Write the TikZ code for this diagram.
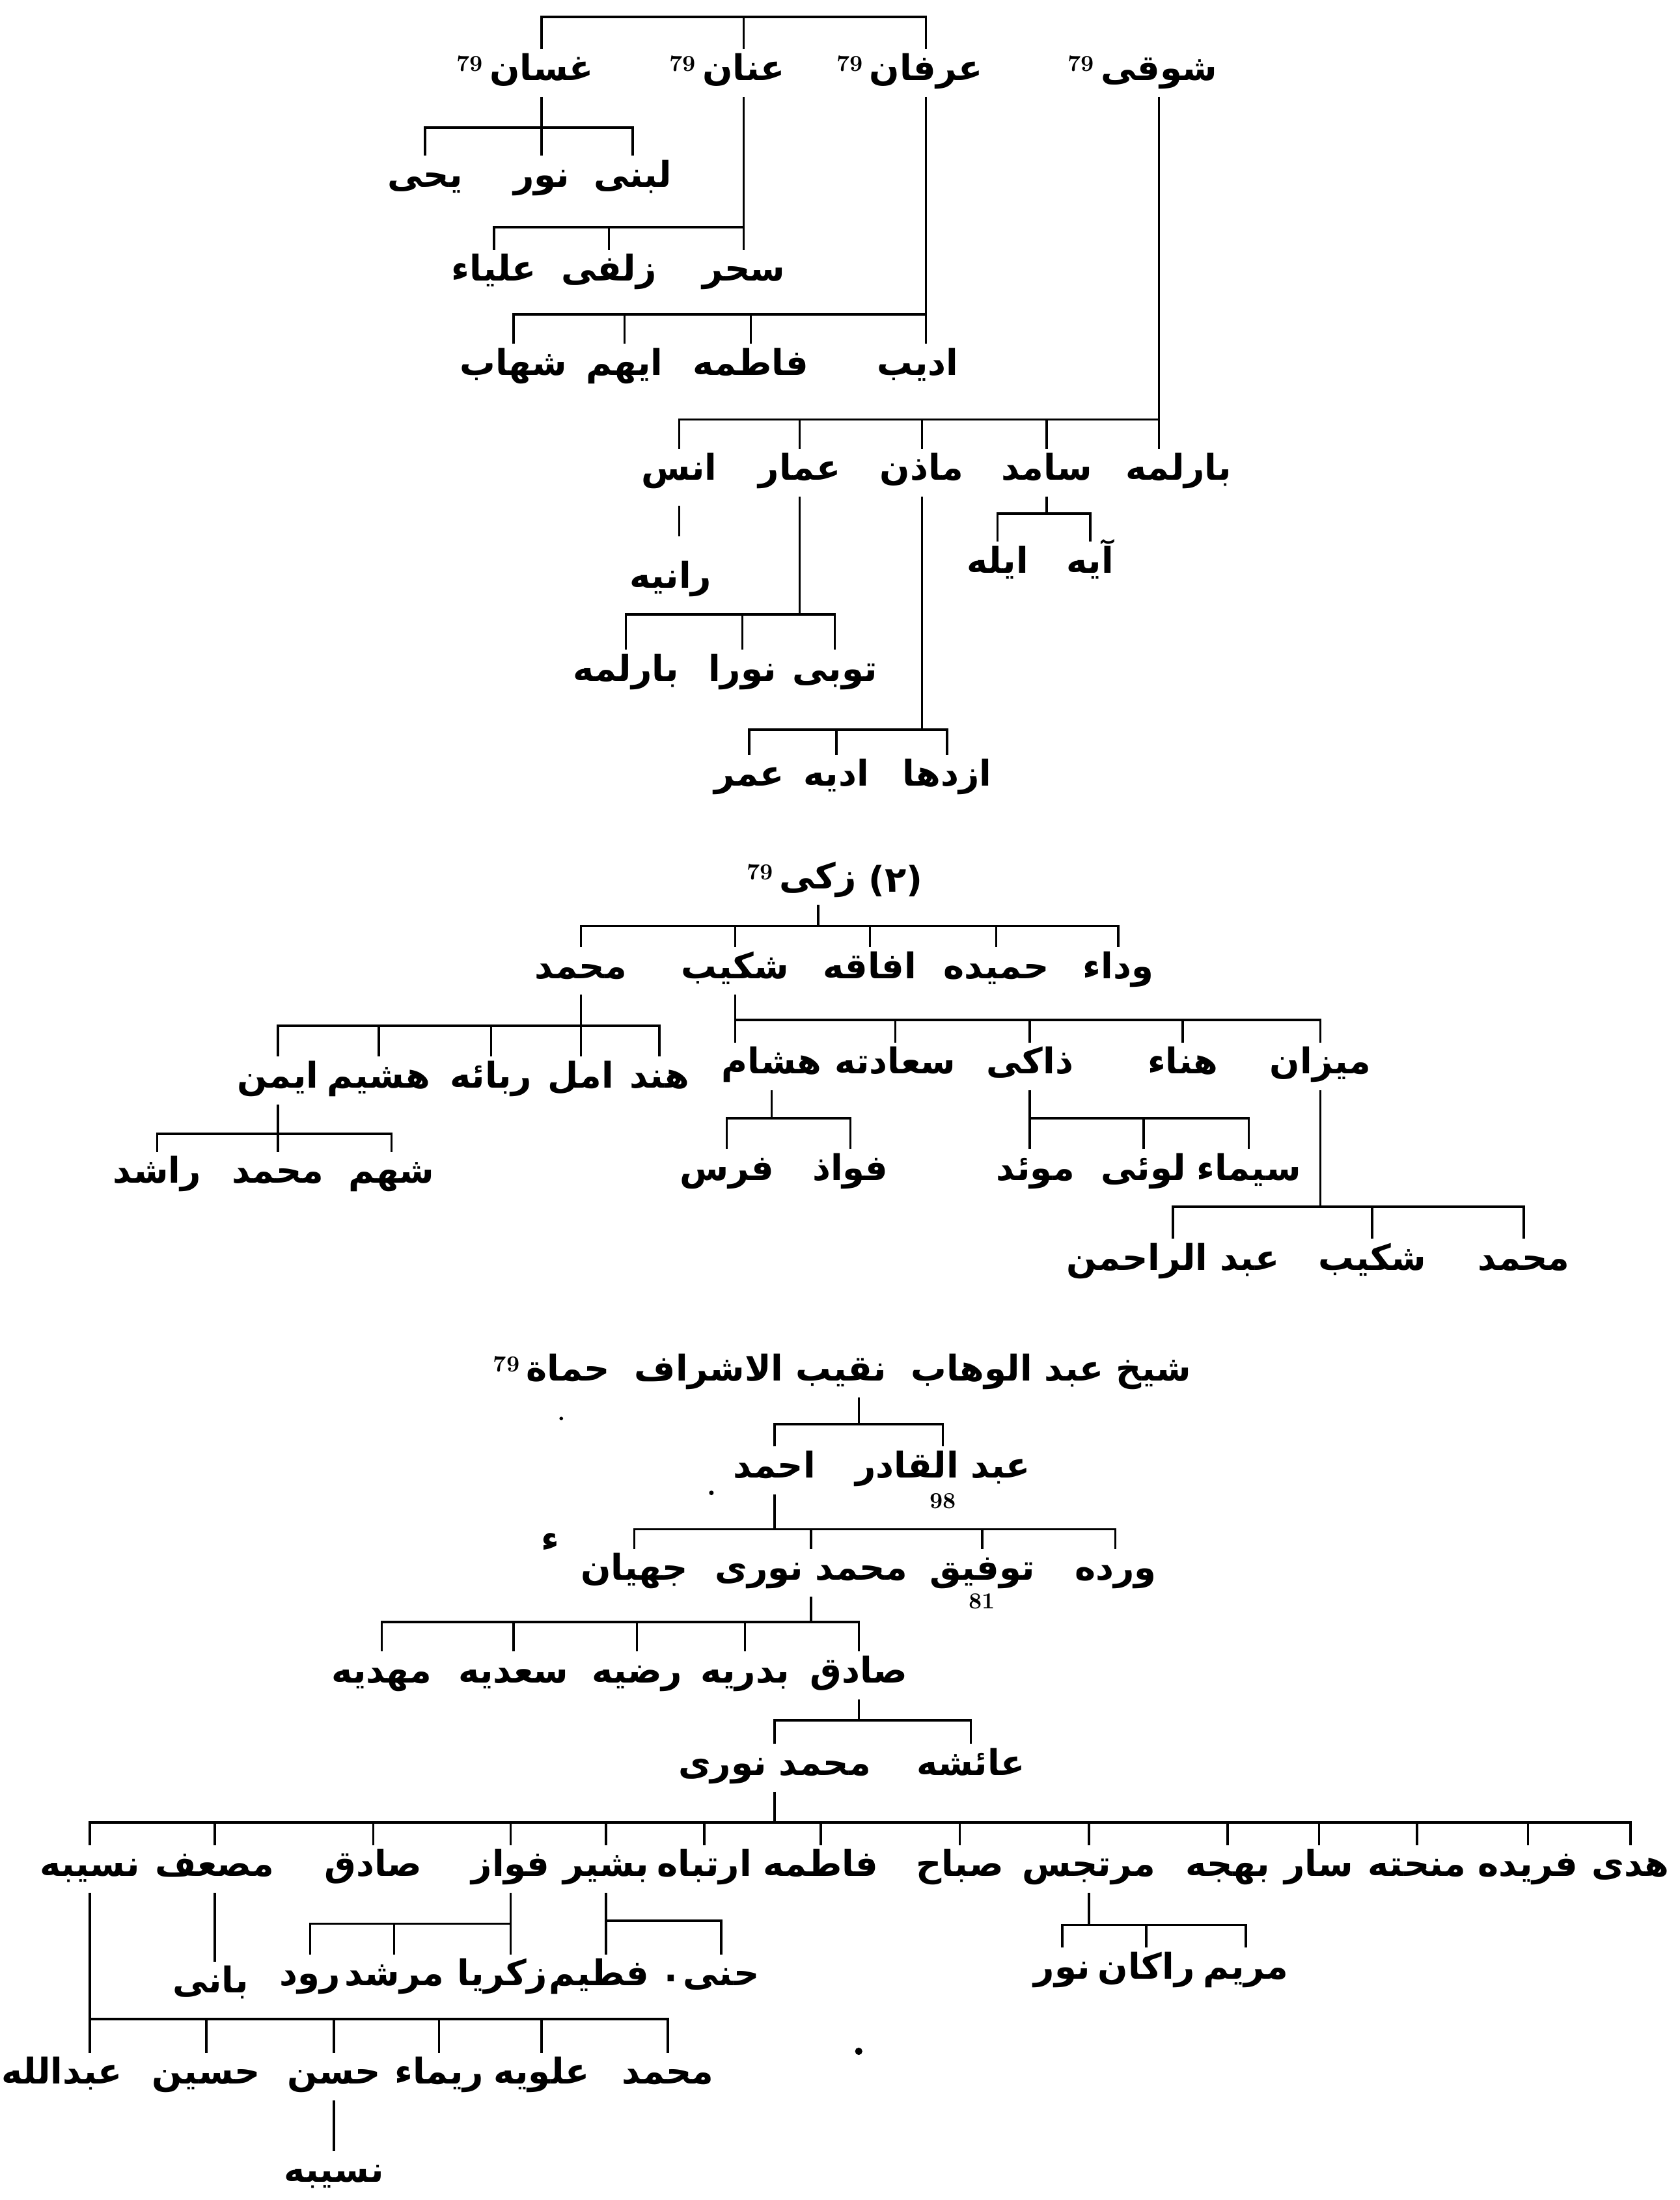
\documentclass[tikz,border=0pt]{standalone}
\usepackage{fontspec}
\newfontfamily\arabicfont[Script=Arabic]{DejaVu Sans}
\TeXXeTstate=1
\usetikzlibrary{positioning}
\tikzset{
  person/.style={font=\arabicfont\bfseries\fontsize{15.5}{18}\selectfont, inner xsep=1pt, inner ysep=1.5pt,
    text height=12pt, text depth=5.5pt, execute at begin node=\beginR, execute at end node=\endR},
  aside/.style={font=\arabicfont\bfseries\fontsize{15.5}{18}\selectfont, inner sep=1pt},
  honour/.style={font=\bfseries\fontsize{10}{10}\selectfont, inner sep=0.5pt},
  tie/.style={line width=1pt},
}
\begin{document}
\begin{tikzpicture}[x=0.021554cm, y=-0.021554cm]
\useasboundingbox (0,0) rectangle (1197,1568);
% first family
\node [person] (ghassan) at (386,52) {غسان};
\node [honour, left=1pt of ghassan, yshift=4pt] (ghassanmk) {79};
\node [person] (anan) at (530,52) {عنان};
\node [honour, left=1pt of anan, yshift=4pt] (ananmk) {79};
\node [person] (irfan) at (660,52) {عرفان};
\node [honour, left=1pt of irfan, yshift=4pt] (irfanmk) {79};
\node [person] (shawqi) at (826,52) {شوقى};
\node [honour, left=1pt of shawqi, yshift=4pt] (shawqimk) {79};
\node [person] (yahya) at (303,128) {يحى};
\node [person] (nur) at (386,128) {نور};
\node [person] (lubna) at (451,128) {لبنى};
\node [person] (alyaa) at (352,195) {علياء};
\node [person] (zulfa) at (434,195) {زلفى};
\node [person] (sahar) at (530,195) {سحر};
\node [person] (shihab) at (366,262) {شهاب};
\node [person] (ayham) at (445,262) {ايهم};
\node [person] (fatima) at (535,262) {فاطمه};
\node [person] (adib) at (654,262) {اديب};
\node [person] (anas) at (484,337) {انس};
\node [person] (ammar) at (570,337) {عمار};
\node [person] (mazin) at (657,337) {ماذن};
\node [person] (samid) at (746,337) {سامد};
\node [person] (barlama) at (840,337) {بارلمه};
\node [person] (rania) at (478,414) {رانيه};
\node [person] (ayla) at (711,403) {ايله};
\node [person] (aya) at (777,403) {آيه};
\node [person] (barlamab) at (446,480) {بارلمه};
\node [person] (nura) at (529,480) {نورا};
\node [person] (tuba) at (595,480) {توبى};
\node [person] (umar) at (534,555) {عمر};
\node [person] (adiya) at (596,555) {اديه};
\node [person] (azdaha) at (675,555) {ازدها};
\draw [tie] (ghassan.north) |- (irfan.north |- 0,12) -- (irfan.north);
\draw [tie] (anan.north) -- (anan.north |- 0,12);
\draw [tie] (ghassan.south) -- (ghassan.south |- 0,91);
\draw [tie] (yahya.north) |- (lubna.north |- 0,91) -- (lubna.north);
\draw [tie] (nur.north) -- (nur.north |- 0,91);
\draw [tie] (anan.south) -- (anan.south |- sahar.north);
\draw [tie] (alyaa.north) |- (anan.south |- 0,162);
\draw [tie] (zulfa.north) -- (zulfa.north |- 0,162);
\draw [tie] (irfan.south) -- (irfan.south |- adib.north);
\draw [tie] (shihab.north) |- (irfan.south |- 0,224);
\foreach \c in {ayham,fatima} \draw [tie] (\c.north) -- (\c.north |- 0,224);
\draw [tie] (shawqi.south) -- (shawqi.south |- barlama.north);
\draw [tie] (anas.north) |- (shawqi.south |- 0,299);
\foreach \c in {ammar,mazin,samid} \draw [tie] (\c.north) -- (\c.north |- 0,299);
\draw [tie, shorten <=4pt, shorten >=9pt] (anas.south) -- (anas.south |- rania.north);
\draw [tie] (samid.south) -- (samid.south |- 0,366);
\draw [tie] (ayla.north) |- (aya.north |- 0,366) -- (aya.north);
\draw [tie] (ammar.south) -- (ammar.south |- 0,438);
\draw [tie] (barlamab.north) |- (tuba.north |- 0,438) -- (tuba.north);
\draw [tie] (nura.north) -- (nura.north |- 0,438);
\draw [tie] (mazin.south) -- (mazin.south |- 0,520);
\draw [tie] (umar.north) |- (azdaha.north |- 0,520) -- (azdaha.north);
\draw [tie] (adiya.north) -- (adiya.north |- 0,520);
% second family
\node [person] (zaki) at (583,628) {زكى};
\node [aside, right=3pt of zaki] (zakino) {(٢)};
\node [honour, left=1pt of zaki, yshift=4pt] (zakimk) {79};
\node [person] (muhammad) at (414,692) {محمد};
\node [person] (shakib) at (524,692) {شكيب};
\node [person] (afaqa) at (620,692) {افاقه};
\node [person] (hamida) at (710,692) {حميده};
\node [person] (wadaa) at (797,692) {وداء};
\node [person] (ayman) at (198,770) {ايمن};
\node [person] (hushaym) at (270,770) {هشيم};
\node [person] (rabaa) at (350,770) {ربائه};
\node [person] (amal) at (414,770) {امل};
\node [person] (hind) at (470,770) {هند};
\node [person] (rashid) at (112,838) {راشد};
\node [person] (muhammadb) at (198,838) {محمد};
\node [person] (shahm) at (279,838) {شهم};
\node [person] (hisham) at (550,760) {هشام};
\node [person] (saadat) at (638,760) {سعادته};
\node [person] (dhaki) at (734,760) {ذاكى};
\node [person] (hanaa) at (843,760) {هناء};
\node [person] (mizan) at (941,760) {ميزان};
\node [person] (faris) at (518,836) {فرس};
\node [person] (fuad) at (606,836) {فواذ};
\node [person] (muayyad) at (738,836) {موئد};
\node [person] (luay) at (815,836) {لوئى};
\node [person] (simaa) at (890,836) {سيماء};
\node [person] (abdrahman) at (836,900) {عبد الراحمن};
\node [person] (shakibb) at (978,900) {شكيب};
\node [person] (muhammadc) at (1086,900) {محمد};
\draw [tie] (zaki.south) -- (zaki.south |- 0,660);
\draw [tie] (muhammad.north) |- (wadaa.north |- 0,660) -- (wadaa.north);
\foreach \c in {shakib,afaqa,hamida} \draw [tie] (\c.north) -- (\c.north |- 0,660);
\draw [tie] (muhammad.south) -- (muhammad.south |- 0,731);
\draw [tie] (ayman.north) |- (hind.north |- 0,731) -- (hind.north);
\foreach \c in {hushaym,rabaa,amal} \draw [tie] (\c.north) -- (\c.north |- 0,731);
\draw [tie] (ayman.south) -- (ayman.south |- muhammadb.north);
\draw [tie] (rashid.north) |- (shahm.north |- 0,808) -- (shahm.north);
\draw [tie] (shakib.south) -- (shakib.south |- hisham.north);
\draw [tie] (shakib.south |- 0,727) -| (mizan.north);
\foreach \c in {saadat,dhaki,hanaa} \draw [tie] (\c.north) -- (\c.north |- 0,727);
\draw [tie] (hisham.south) -- (hisham.south |- 0,797);
\draw [tie] (faris.north) |- (fuad.north |- 0,797) -- (fuad.north);
\draw [tie] (dhaki.south) -- (dhaki.south |- muayyad.north);
\draw [tie] (dhaki.south |- 0,797) -| (simaa.north);
\draw [tie] (luay.north) -- (luay.north |- 0,797);
\draw [tie] (mizan.south) -- (mizan.south |- 0,860);
\draw [tie] (abdrahman.north) |- (muhammadc.north |- 0,860) -- (muhammadc.north);
\draw [tie] (shakibb.north) -- (shakibb.north |- 0,860);
% third family
\node [person] (shaykh) at (612,979) {شيخ عبد الوهاب \ نقيب الاشراف \ حماة};
\node [honour, left=1pt of shaykh, yshift=4pt] (shaykhmk) {79};
\node [person] (ahmad) at (552,1048) {احمد};
\node [person] (abdalqadir) at (672,1048) {عبد القادر};
\node [honour, below=-1pt of abdalqadir] (abdalqadirmk) {98};
\node [person] (jihan) at (452,1121) {جهيان};
\node [person] (mnuri) at (578,1121) {محمد نورى};
\node [person] (tawfiq) at (700,1121) {توفيق};
\node [honour, below=-2pt of tawfiq] (tawfiqmk) {81};
\node [person] (warda) at (795,1121) {ورده};
\node [person] (mahdiya) at (272,1194) {مهديه};
\node [person] (saadiya) at (366,1194) {سعديه};
\node [person] (radiya) at (454,1194) {رضيه};
\node [person] (badriya) at (531,1194) {بدريه};
\node [person] (sadiq) at (612,1194) {صادق};
\node [person] (mnurib) at (552,1260) {محمد نورى};
\node [person] (aisha) at (692,1260) {عائشه};
\node [person] (nasiba) at (64,1332) {نسيبه};
\node [person] (musab) at (153,1332) {مصعف};
\node [person] (sadiqb) at (266,1332) {صادق};
\node [person] (fawwaz) at (364,1332) {فواز};
\node [person] (bashir) at (432,1332) {بشير};
\node [person] (irtiba) at (502,1332) {ارتباه};
\node [person] (fatimab) at (585,1332) {فاطمه};
\node [person] (sabah) at (684,1332) {صباح};
\node [person] (murtajis) at (776,1332) {مرتجس};
\node [person] (bahja) at (875,1332) {بهجه};
\node [person] (sar) at (940,1332) {سار};
\node [person] (manha) at (1010,1332) {منحته};
\node [person] (farida) at (1089,1332) {فريده};
\node [person] (huda) at (1162,1332) {هدى};
\node [person] (bani) at (150,1415) {بانى};
\node [person] (rud) at (221,1410) {رود};
\node [person] (murshid) at (281,1410) {مرشد};
\node [person] (zakariya) at (358,1410) {زكريا};
\node [person] (fatim) at (427,1410) {فطيم};
\node [person] (hana) at (514,1410) {حنى};
\node [aside, left=0pt of hana] (hanadot) {.};
\node [person] (nurb) at (757,1405) {نور};
\node [person] (rakan) at (817,1405) {راكان};
\node [person] (maryam) at (888,1405) {مريم};
\node [person] (abdallah) at (44,1480) {عبدالله};
\node [person] (husayn) at (147,1480) {حسين};
\node [person] (hasan) at (238,1480) {حسن};
\node [person] (rimaa) at (313,1480) {ريماء};
\node [person] (alawiya) at (386,1480) {علويه};
\node [person] (muhammadd) at (476,1480) {محمد};
\node [person] (nasibab) at (238,1550) {نسيبه};
\node [person] (speck) at (392,1100) {ء};
\draw [tie] (shaykh.south) -- (shaykh.south |- 0,1015);
\draw [tie] (ahmad.north) |- (abdalqadir.north |- 0,1015) -- (abdalqadir.north);
\draw [tie] (ahmad.south) -- (ahmad.south |- 0,1090);
\draw [tie] (jihan.north) |- (warda.north |- 0,1090) -- (warda.north);
\foreach \c in {mnuri,tawfiq} \draw [tie] (\c.north) -- (\c.north |- 0,1090);
\draw [tie] (mnuri.south) -- (mnuri.south |- 0,1156);
\draw [tie] (mahdiya.north) |- (sadiq.north |- 0,1156) -- (sadiq.north);
\foreach \c in {saadiya,radiya,badriya} \draw [tie] (\c.north) -- (\c.north |- 0,1156);
\draw [tie] (sadiq.south) -- (sadiq.south |- 0,1226);
\draw [tie] (mnurib.north) |- (aisha.north |- 0,1226) -- (aisha.north);
\draw [tie] (mnurib.south) -- (mnurib.south |- 0,1299);
\draw [tie] (nasiba.north) |- (huda.north |- 0,1299) -- (huda.north);
\foreach \c in {musab,sadiqb,fawwaz,bashir,irtiba,fatimab,sabah,murtajis,bahja,sar,manha,farida}
  \draw [tie] (\c.north) -- (\c.north |- 0,1299);
\draw [tie] (musab.south) -- (musab.south |- bani.north);
\draw [tie] (fawwaz.south) -- (fawwaz.south |- zakariya.north);
\draw [tie] (rud.north) |- (fawwaz.south |- 0,1371);
\draw [tie] (murshid.north) -- (murshid.north |- 0,1371);
\draw [tie] (bashir.south) -- (bashir.south |- fatim.north);
\draw [tie] (bashir.south |- 0,1369) -| (hana.north);
\draw [tie] (murtajis.south) -- (murtajis.south |- 0,1372);
\draw [tie] (nurb.north) |- (maryam.north |- 0,1372) -- (maryam.north);
\draw [tie] (rakan.north) -- (rakan.north |- 0,1372);
\draw [tie] (nasiba.south) -- (nasiba.south |- abdallah.north);
\draw [tie] (nasiba.south |- 0,1439) -| (muhammadd.north);
\foreach \c in {husayn,hasan,rimaa,alawiya} \draw [tie] (\c.north) -- (\c.north |- 0,1439);
\draw [tie] (hasan.south) -- (hasan.south |- nasibab.north);
\fill (400,1011) circle (0.8pt);
\fill (507,1064) circle (1pt);
\fill (612,1462) circle (1.6pt);
\end{tikzpicture}
\end{document}
